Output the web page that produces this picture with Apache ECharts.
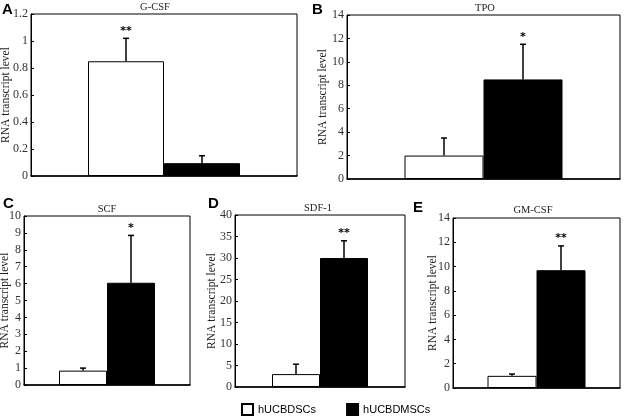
<!DOCTYPE html>
<html>
<head>
<meta charset="utf-8">
<script src="https://cdn.jsdelivr.net/npm/echarts@6/dist/echarts.min.js"></script>
<style>html,body{margin:0;padding:0;background:#fff}#c{width:626px;height:416px}</style>
</head>
<body>
<div id="c"></div>
<script>
// ---- data ----
const panelLetters = ['A', 'B', 'C', 'D', 'E'];
const panelTitles = ['G-CSF', 'TPO', 'SCF', 'SDF-1', 'GM-CSF'];
const seriesNames = ['hUCBDSCs', 'hUCBDMSCs'];
const scMean = [0.85, 2.0, 0.85, 3.0, 1.0];
const scErrTop = [1.02, 3.5, 1.0, 5.3, 1.15];
const mscMean = [0.095, 8.5, 6.05, 30, 9.7];
const mscErrTop = [0.15, 11.5, 8.85, 34, 11.7];
const scStars = ['**', '', '', '', ''];
const mscStars = ['', '*', '*', '**', '**'];
const yMax = [1.2, 14, 10, 40, 14];
const yStep = [0.2, 2, 1, 5, 2];

// ---- layout (pixels) ----
const grids = [
  {left: 31, top: 14, width: 266, height: 162},
  {left: 347, top: 15, width: 273, height: 164},
  {left: 24, top: 216, width: 166, height: 169},
  {left: 235, top: 215, width: 170, height: 172},
  {left: 453, top: 218, width: 167, height: 170}
];
const barW = [76, 79, 48, 48, 49];
const nameGaps = [19, 18, 13, 17, 14];
const titlePos = [[155, 2], [485, 3], [107, 204], [318, 203], [533, 205]];
const letterPos = [[2, 2], [312, 2], [3, 196], [208, 196], [413, 200]];

const serif = 'Liberation Serif';
const chart = echarts.init(document.getElementById('c'));

const option = {
  animation: false,
  backgroundColor: '#fff',
  title: [],
  grid: [],
  xAxis: [],
  yAxis: [],
  series: [],
  legend: {
    data: seriesNames,
    left: 241, top: 403, padding: 0,
    itemWidth: 11, itemHeight: 11, itemGap: 30,
    icon: 'rect',
    textStyle: {fontFamily: 'Liberation Sans', fontSize: 11, color: '#000'}
  }
};

function errItem(offset, stars) {
  return function (params, api) {
    const top = api.coord([api.value(0), api.value(2)]);
    const base = api.coord([api.value(0), api.value(1)]);
    const x = top[0] + offset;
    const star = stars[params.dataIndex];
    return {
      type: 'group',
      children: [
        {type: 'line', shape: {x1: x, y1: base[1], x2: x, y2: top[1]}, style: {stroke: '#000', lineWidth: 1.5}},
        {type: 'line', shape: {x1: x - 3, y1: top[1], x2: x + 3, y2: top[1]}, style: {stroke: '#000', lineWidth: 1.5}},
        {type: 'text', x: x, y: top[1] - 2,
         style: {text: star, textAlign: 'center', textVerticalAlign: 'bottom',
                 font: 'bold 11px "DejaVu Sans"', fill: '#000'}}
      ]
    };
  };
}

for (let i = 0; i < 5; i++) {
  option.grid.push(Object.assign({show: true, borderColor: '#000', borderWidth: 1,
    backgroundColor: 'transparent', containLabel: false, outerBoundsMode: 'none'}, grids[i]));
  option.title.push({
    text: panelTitles[i], left: titlePos[i][0], top: titlePos[i][1], textAlign: 'center', padding: 0,
    textStyle: {fontFamily: serif, fontSize: 10.5, fontWeight: 'normal', color: '#222'}
  });
  option.title.push({
    text: panelLetters[i], left: letterPos[i][0], top: letterPos[i][1], padding: 0,
    textStyle: {fontFamily: 'Liberation Sans', fontSize: 15, fontWeight: 'bold', color: '#000'}
  });
  option.xAxis.push({
    type: 'category', gridIndex: i, data: [panelTitles[i]],
    axisLine: {lineStyle: {color: '#000', width: 1.5}},
    axisTick: {show: false}, axisLabel: {show: false}
  });
  option.yAxis.push({
    type: 'value', gridIndex: i, min: 0, max: yMax[i], interval: yStep[i],
    name: 'RNA transcript level', nameLocation: 'middle', nameGap: nameGaps[i],
    nameMoveOverlap: false,
    nameTextStyle: {fontFamily: serif, fontSize: 11.5, color: '#222'},
    axisLine: {show: true, lineStyle: {color: '#000', width: 1}},
    axisTick: {show: true, inside: true, length: 3, lineStyle: {color: '#000'}},
    axisLabel: {fontFamily: serif, fontSize: 12, color: '#333', margin: 3},
    splitLine: {show: false}
  });
  option.series.push({
    type: 'bar', name: seriesNames[0], xAxisIndex: i, yAxisIndex: i,
    data: [scMean[i]], barWidth: barW[i], barGap: '0%',
    itemStyle: {color: '#fff', borderColor: '#000', borderWidth: 1}
  });
  option.series.push({
    type: 'bar', name: seriesNames[1], xAxisIndex: i, yAxisIndex: i,
    data: [mscMean[i]], barWidth: barW[i], barGap: '0%',
    itemStyle: {color: '#000', borderColor: '#000', borderWidth: 1}
  });
  option.series.push({
    type: 'custom', xAxisIndex: i, yAxisIndex: i, z: 5,
    renderItem: errItem(-barW[i] / 2, [scStars[i]]),
    data: [[0, scMean[i], scErrTop[i]]]
  });
  option.series.push({
    type: 'custom', xAxisIndex: i, yAxisIndex: i, z: 5,
    renderItem: errItem(barW[i] / 2, [mscStars[i]]),
    data: [[0, mscMean[i], mscErrTop[i]]]
  });
}

chart.setOption(option);
</script>
</body>
</html>
